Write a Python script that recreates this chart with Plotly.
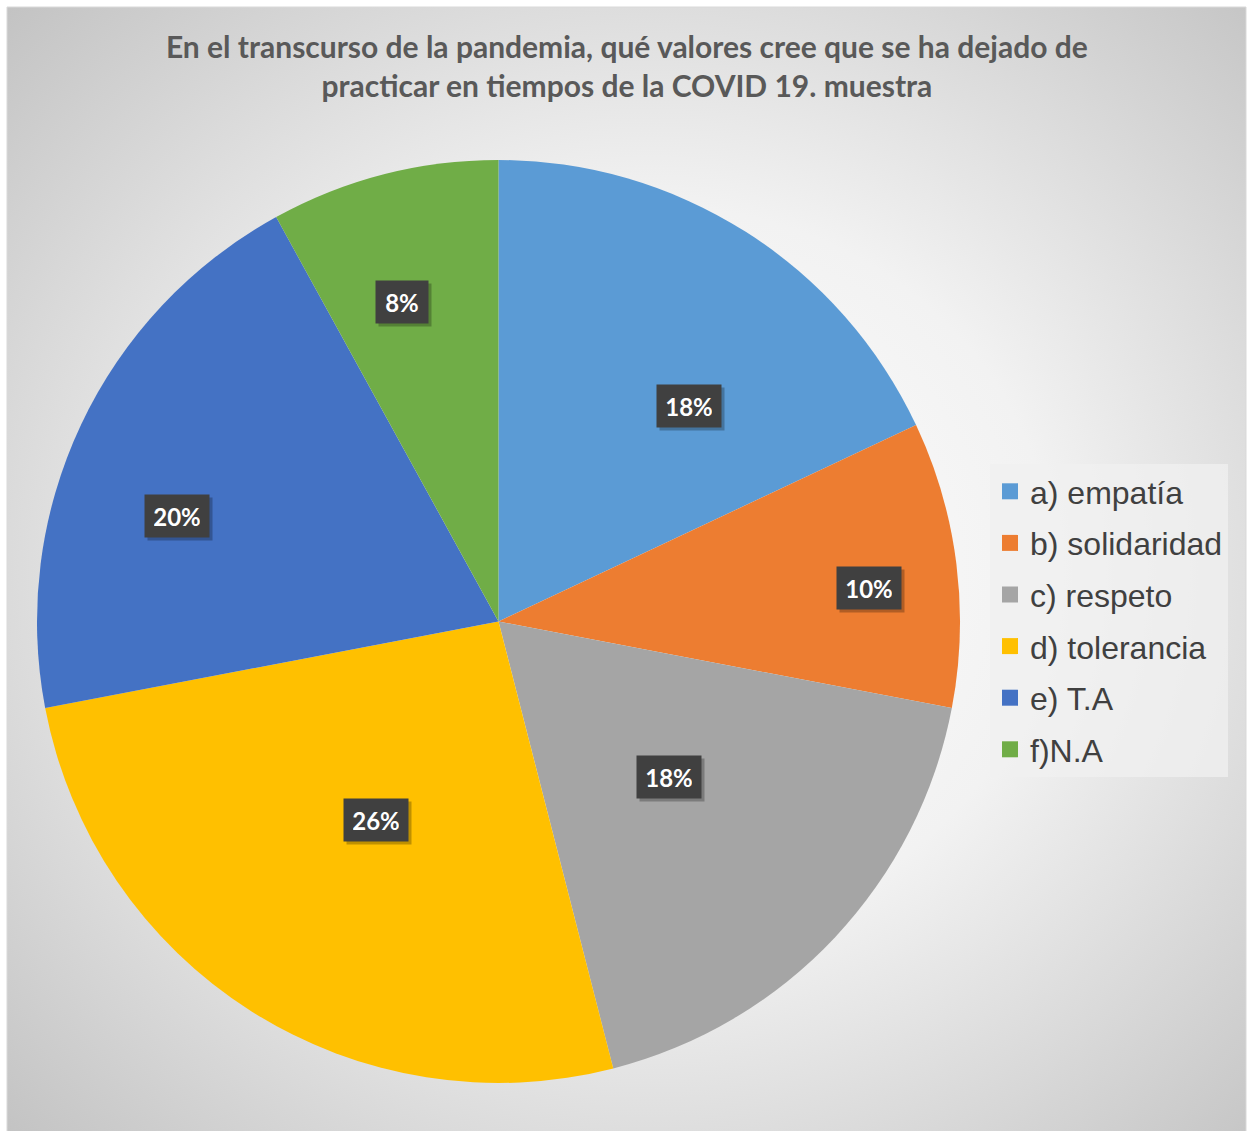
import base64
import math
import plotly.graph_objects as go

# ---- data ----
categories = ["a) empatía", "b) solidaridad", "c) respeto", "d) tolerancia", "e) T.A", "f)N.A"]
values = [18, 10, 18, 26, 20, 8]
colors = ["#5B9BD5", "#ED7D31", "#A5A5A5", "#FFC000", "#4472C4", "#70AD47"]
title_lines = ["En el transcurso de la pandemia, qué valores cree que se ha dejado de",
               "practicar en tiempos de la COVID 19. muestra"]

# ---- layout constants ----
W, H = 1250, 1131
PIE_L, PIE_R, PIE_T, PIE_B = 37, 960, 160, 1083
# label placement (fraction of radius, angle offset in degrees) - Excel "best fit" look
LABEL_R = [0.623, 0.806, 0.50, 0.505, 0.733, 0.723]
LABEL_DA = [9.2, 2.0, -0.7, -0.7, -7.0, -2.4]

svg = (
    "<svg xmlns='http://www.w3.org/2000/svg' width='1239' height='1130' preserveAspectRatio='none'>"
    "<defs><radialGradient id='g' cx='0.52' cy='0.5' r='0.72'>"
    "<stop offset='0' stop-color='#ffffff'/>"
    "<stop offset='0.45' stop-color='#f2f2f2'/>"
    "<stop offset='1' stop-color='#c3c3c3'/>"
    "</radialGradient></defs>"
    "<rect width='100%' height='100%' fill='url(#g)'/></svg>"
)
bg_uri = "data:image/svg+xml;base64," + base64.b64encode(svg.encode()).decode()

fig = go.Figure()
fig.add_trace(go.Pie(
    labels=categories, values=values, sort=False, direction="clockwise", rotation=0,
    marker=dict(colors=colors, line=dict(width=0)),
    textinfo="none", hoverinfo="label+percent", showlegend=False,
    domain=dict(x=[PIE_L / W, PIE_R / W], y=[1 - PIE_B / H, 1 - PIE_T / H]),
))

# legend via dummy traces (for item spacing)
for cat, col in zip(categories, colors):
    fig.add_trace(go.Scatter(
        x=[None], y=[None], mode="markers", name=cat, legendgroup=cat,
        marker=dict(symbol="square", size=16, color=col), showlegend=True,
    ))

# data labels
cx = (PIE_L + PIE_R) / 2
cy = (PIE_T + PIE_B) / 2
R = min(PIE_R - PIE_L, PIE_B - PIE_T) / 2
total = sum(values)
cum = 0
annotations = []
for i, v in enumerate(values):
    mid = (cum + v / 2) / total * 360 + LABEL_DA[i]
    cum += v
    th = math.radians(mid)
    px = cx + R * LABEL_R[i] * math.sin(th)
    py = cy - R * LABEL_R[i] * math.cos(th)
    txt = f"{round(v / total * 100)}%"
    box_w = 46 if len(txt) > 2 else 34
    common = dict(x=px / W, y=1 - py / H, xref="paper", yref="paper", showarrow=False,
                  xanchor="center", yanchor="middle",
                  width=box_w, height=24, borderpad=9)
    annotations.append(dict(text=" ", xshift=3, yshift=-3, bgcolor="rgba(0,0,0,0.25)",
                            font=dict(family="Lato", size=24, color="rgba(0,0,0,0)"), **common))
    annotations.append(dict(text=txt, bgcolor="#404040",
                            font=dict(family="Lato", size=24, weight=700, color="#ffffff"), **common))

fig.update_layout(
    width=W, height=H,
    margin=dict(l=0, r=0, t=0, b=0),
    paper_bgcolor="#ffffff", plot_bgcolor="rgba(0,0,0,0)",
    xaxis=dict(visible=False), yaxis=dict(visible=False),
    title=dict(text="<br>".join(title_lines), x=0.5015, xanchor="center", y=1 - 58 / H, yanchor="top",
               font=dict(family="Lato", size=30, weight=700, color="#595959")),
    legend=dict(x=990 / W, y=1 - 464 / H, xanchor="left", yanchor="top",
                bgcolor="rgba(240,240,240,0.75)", traceorder="grouped", tracegroupgap=7,
                font=dict(family="Liberation Sans", size=32, color="#404040")),
    annotations=annotations,
    images=[dict(source=bg_uri, xref="paper", yref="paper", x=7 / W, y=1 - 7 / H,
                 sizex=1239 / W, sizey=1130 / H, sizing="stretch", layer="below")],
    shapes=[dict(type="rect", xref="paper", yref="paper", x0=7 / W, x1=1246 / W, y0=-0.01, y1=1 - 7 / H,
                 line=dict(color="#d9d9d9", width=1), layer="below")],
)

fig.write_html("out.html", config={"displayModeBar": False},
               post_script="document.body.style.margin='0';")
